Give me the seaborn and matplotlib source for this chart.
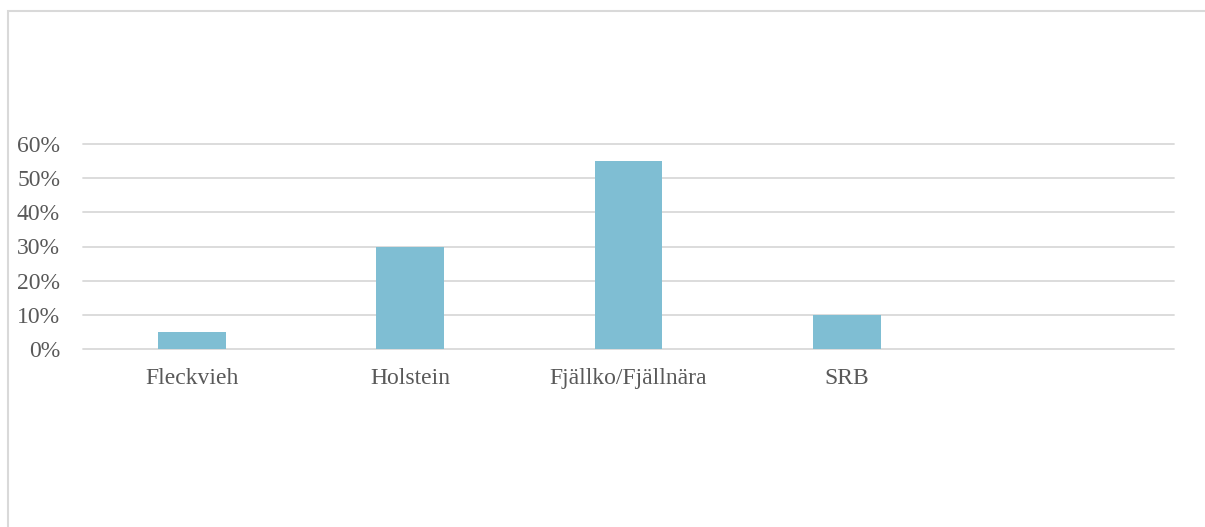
import matplotlib
matplotlib.use("Agg")
import matplotlib.pyplot as plt
import matplotlib.patches as mpatches
import matplotlib.ticker as mticker
import seaborn as sns
import pandas as pd

# Data
breeds = ["Fleckvieh", "Holstein", "Fjällko/Fjällnära", "SRB"]
shares = [0.05, 0.30, 0.55, 0.10]
y_ticks = [0.0, 0.1, 0.2, 0.3, 0.4, 0.5, 0.6]

df = pd.DataFrame({"breed": breeds, "share": shares})

sns.set_theme(style="white")
plt.rcParams["font.family"] = ["Liberation Serif", "DejaVu Serif"]

grid_col = "#D9D9D9"
text_col = "#595959"
bar_col = "#7FBED3"

fig = plt.figure(figsize=(12.05, 5.27), dpi=100)
fig.patch.set_facecolor("white")
ax = fig.add_axes([83 / 1205, 178 / 527, (1174 - 83) / 1205, 205 / 527])

sns.barplot(data=df, x="breed", y="share", order=breeds, color=bar_col,
            width=0.31, saturation=1, linewidth=0, ax=ax, zorder=3)

# one empty category slot at the right end
ax.set_xlim(-0.5, len(breeds) + 0.5)
ax.set_ylim(0, 0.6)
ax.set_yticks(y_ticks)
ax.yaxis.set_major_formatter(mticker.PercentFormatter(1.0, decimals=0))
ax.grid(axis="y", color=grid_col, linewidth=1.3, zorder=0)
ax.set_axisbelow(True)
for gl in ax.get_ygridlines():
    gl.set_clip_on(False)

for s in ax.spines.values():
    s.set_visible(False)
ax.tick_params(axis="both", length=0, labelsize=17, labelcolor=text_col)
ax.tick_params(axis="y", pad=16.5)
ax.tick_params(axis="x", pad=14)
ax.set_xlabel("")
ax.set_ylabel("")

# chart border (cropped at right and bottom)
fig.patches.append(mpatches.Rectangle((8 / 1205, -0.1), 1.2, (527 - 11) / 527 + 0.1,
                                      transform=fig.transFigure, fill=False,
                                      edgecolor=grid_col, linewidth=1.5))

fig.savefig("out.png", dpi=100)
